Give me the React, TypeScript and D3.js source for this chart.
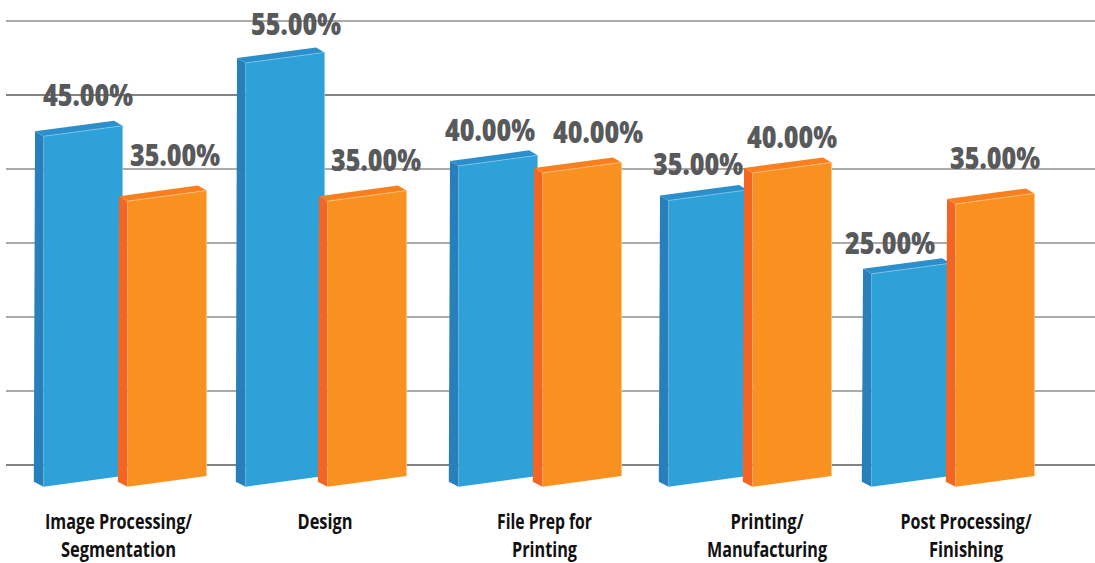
import React from "react";
import * as d3 from "d3";

// ---- data ----
const categories = ["Image Processing/\nSegmentation", "Design", "File Prep for\nPrinting", "Printing/\nManufacturing", "Post Processing/\nFinishing"];
const labelA = [45, 55, 40, 35, 25];
const labelB = [35, 35, 40, 40, 35];
// drawn height of each bar, in the same units (the 3-D art is slightly off its labels)
const heightA = [44.6, 55, 40.4, 35.5, 25.1];
const heightB = [35.4, 35.4, 39.4, 39.4, 35.0];
const gridValues = [0, 10, 20, 30, 40, 50, 60];
const darkGrid = [0, 50];

const W = 1095, H = 563;
const COL = {
  a: { front: "#2ea1d8", side: "#2780bb", top: "#2b8fcb", edge: "#7cc6ea" },
  b: { front: "#f99120", side: "#f36523", top: "#f97f1f", edge: "#fcc487" },
};

const grid = d3.scaleLinear().domain([0, 60]).range([465, 21]);
const yTop = d3.scaleLinear().domain([25, 55]).range([269.5, 58]);
const xA = d3.scalePoint<number>().domain(d3.range(5)).range([35, 863]);
const nudgeA = [0, -5, 1, 4, 0];
const nudgeB = [84, 82, 84, 84, 84];
const labelOffA = [[53, -25], [59, -23], [40, -20], [38, -20], [27, -15]];
const labelOffB = [[56, -30], [57, -25], [64, -25], [48, -20], [48, -30]];
const catCenters = [[118.5, 118.5], [325, 325], [544.5, 544.5], [767, 767], [966, 966]];
const catWidths = [[147, 115], [55, 0], [95, 65], [73, 120], [131, 74]];

const BACK = 8.5, DROP = 5, FACE = 79, RISE = 10.6, BOTTOM = 486.7;

function Bar({ x, h, c }: { x: number; h: number; c: typeof COL.a }) {
  const t = yTop(h);
  const fx = x + BACK;
  const fy = t + DROP;
  const fr = fx + FACE;
  const path = d3.line();
  return (
    <g>
      <path d={path([[fx, BOTTOM], [fr, BOTTOM - RISE], [fr, fy - RISE], [fx, fy]])!} fill={c.front} />
      <path d={path([[x, t], [fx, fy], [fx, BOTTOM], [x - 1.2, BOTTOM - DROP]])!} fill={c.side} />
      <path d={path([[x, t], [x + FACE, t - RISE], [fr, fy - RISE], [fx, fy]])!} fill={c.top} />
      <path d={path([[fx, fy], [fr, fy - RISE], [fr, BOTTOM - RISE]])!} fill="none" stroke={c.edge} strokeWidth={0.8} />
      <path d={path([[fx, fy], [fx, BOTTOM]])!} fill="none" stroke={c.edge} strokeOpacity={0.5} strokeWidth={0.6} />
    </g>
  );
}

function Val({ x, y, v }: { x: number; y: number; v: number }) {
  return (
    <text x={x} y={y} textLength={90} lengthAdjust="spacingAndGlyphs"
      fontFamily="'Open Sans','Liberation Sans',sans-serif" fontWeight={800} fontSize={30}
      fill="#58595b">
      {d3.format(".2f")(v)}%
    </text>
  );
}

export default function App() {
  const rows = categories.map((_, i) => {
    const xa = xA(i)! + nudgeA[i];
    const xb = xA(i)! + nudgeA[i] + nudgeB[i];
    return { i, xa, xb };
  });
  return (
    <svg width={W} height={H} viewBox={`0 0 ${W} ${H}`}
      style={{ position: "absolute", left: 0, top: 0, background: "#fff" }}>
      {gridValues.map(v => (
        <line key={v} x1={6} x2={W} y1={grid(v)} y2={grid(v)}
          stroke={darkGrid.includes(v) ? "#5a5a5a" : "#8f8f8f"} strokeWidth={1.4} />
      ))}
      {rows.map(r => <Bar key={"a" + r.i} x={r.xa} h={heightA[r.i]} c={COL.a} />)}
      {rows.map(r => <Bar key={"b" + r.i} x={r.xb} h={heightB[r.i]} c={COL.b} />)}
      {rows.map(r => (
        <g key={"v" + r.i}>
          <Val x={r.xa + labelOffA[r.i][0] - 45} y={yTop(heightA[r.i]) + labelOffA[r.i][1]} v={labelA[r.i]} />
          <Val x={r.xb + labelOffB[r.i][0] - 45} y={yTop(heightB[r.i]) + labelOffB[r.i][1]} v={labelB[r.i]} />
        </g>
      ))}
      {categories.map((c, i) => c.split("\n").map((line, j) => (
        <text key={i + "-" + j} x={catCenters[i][j]} y={529 + j * 28} textAnchor="middle"
          textLength={catWidths[i][j]} lengthAdjust="spacingAndGlyphs"
          fontFamily="'Open Sans','Liberation Sans',sans-serif" fontWeight={700} fontSize={22}
          fill="#111">
          {line}
        </text>
      )))}
    </svg>
  );
}
